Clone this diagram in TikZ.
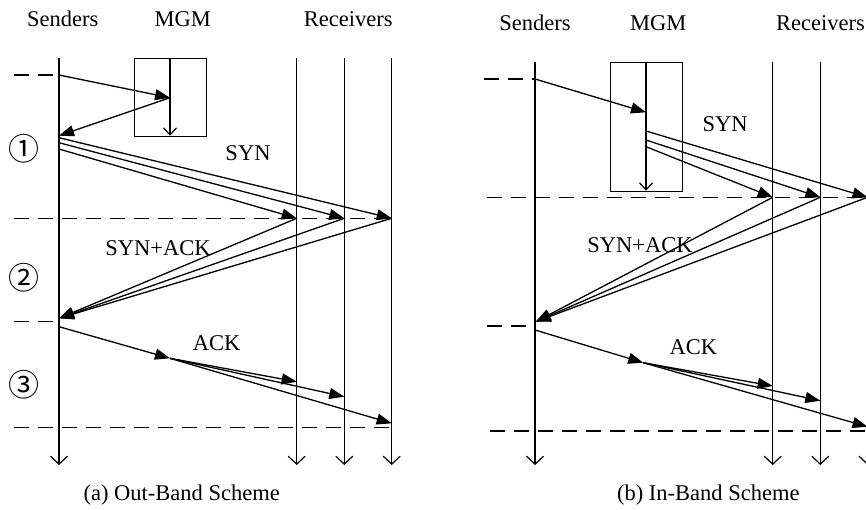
\documentclass[tikz,border=0pt]{standalone}
\usepackage{fontspec}
\setmainfont{Liberation Serif}
\newfontfamily\cjk{Noto Sans CJK SC}
\usetikzlibrary{arrows.meta}
\begin{document}
\begin{tikzpicture}[x=1pt,y=-1pt,
  every node/.style={inner sep=0pt,font=\fontsize{22.5}{26}\selectfont},
  circnum/.style={font=\fontsize{31}{34}\selectfont\cjk},
  lifeline/.style={line width=1.3pt,-{Straight Barb[length=8pt,width=17pt,line width=1.2pt]}},
  mgmline/.style={line width=1.3pt,-{Straight Barb[length=7pt,width=13pt,line width=1.2pt]}},
  msg/.style={line width=1.3pt,-{Triangle[length=15pt,width=11pt]}},
  sep/.style={line width=1.3pt,dash pattern=on 15pt off 9pt},
  box/.style={draw,line width=1.3pt}]
\useasboundingbox (0,0) rectangle (866,509);

%%%%%%%%%%%%%%%% (a) Out-Band
\node (senA) at (62.7,19.3) {Senders};
\node (mgmA) at (182.7,19.3) {MGM};
\node (recA) at (348.3,19.3) {Receivers};

\coordinate (sAt) at (59,58);   \coordinate (sAb) at (59,465);
\coordinate (rA1t) at (296.7,58); \coordinate (rA1b) at (296.7,465);
\coordinate (rA2t) at (344.3,58); \coordinate (rA2b) at (344.3,465);
\coordinate (rA3t) at (391.7,58); \coordinate (rA3b) at (391.7,465);
\draw[lifeline] (sAt) -- (sAb);
\draw[lifeline] (rA1t) -- (rA1b);
\draw[lifeline] (rA2t) -- (rA2b);
\draw[lifeline] (rA3t) -- (rA3b);

\node[box,minimum width=71.7pt,minimum height=77.7pt,anchor=north west] (boxA) at (134,58) {};
\coordinate (mAt) at (170,58); \coordinate (mAb) at (170,135.7);
\draw[mgmline] (mAt) -- (mAb);

% phase 1
\coordinate (dA1s) at (14,75); \coordinate (dA1e) at (59,75);
\draw[sep] (dA1s) -- (dA1e);
\coordinate (mAin) at (170,97.7);
\draw[msg] (dA1e) -- (mAin);
\coordinate (sAsyn) at (59,135.7);
\draw[msg] (mAin) -- (sAsyn);
\coordinate (sA1) at (59,137.7); \coordinate (sA2) at (59,142.7); \coordinate (sA3) at (59,149);
\coordinate (rA1s) at (296.7,218.3); \coordinate (rA2s) at (344.3,218.3); \coordinate (rA3s) at (391.7,218.3);
\draw[msg] (sA1) -- (rA3s);
\draw[msg] (sA2) -- (rA2s);
\draw[msg] (sA3) -- (rA1s);
\coordinate (dA2s) at (14,218.3);
\draw[sep] (dA2s) -- (rA3s);

% phase 2
\coordinate (sAack) at (59,318.3);
\draw[msg] (rA1s) -- (sAack);
\draw[msg] (rA2s) -- (sAack);
\draw[msg] (rA3s) -- (sAack);
\coordinate (dA3s) at (14,321.7); \coordinate (dA3e) at (59,321.7);
\draw[sep] (dA3s) -- (dA3e);

% phase 3
\coordinate (sAa) at (59,326.7); \coordinate (mAa) at (170,358.3);
\draw[msg] (sAa) -- (mAa);
\coordinate (rA1a) at (296.7,381.7); \coordinate (rA2a) at (344.3,396.7); \coordinate (rA3a) at (391.7,423.3);
\draw[msg] (mAa) -- (rA1a);
\draw[msg] (mAa) -- (rA2a);
\draw[msg] (mAa) -- (rA3a);
\coordinate (dA4s) at (14,427.7); \coordinate (dA4e) at (391.7,427.7);
\draw[sep] (dA4s) -- (dA4e);

\node (synA) at (248,152.7) {SYN};
\node (synackA) at (158,247.7) {SYN+ACK};
\node (ackA) at (216.7,343.3) {ACK};
\node[circnum] (c1) at (24,149) {①};
\node[circnum] (c2) at (24,278) {②};
\node[circnum] (c3) at (24,385) {③};
\node (capA) at (181.7,495) {(a) Out-Band Scheme};

%%%%%%%%%%%%%%%% (b) In-Band
\node (senB) at (535,23.3) {Senders};
\node (mgmB) at (658.3,23.3) {MGM};
\node[anchor=east] (recB) at (865,23.3) {Receivers};

\coordinate (sBt) at (535,61.7);   \coordinate (sBb) at (535,465);
\coordinate (rB1t) at (772.7,61.7); \coordinate (rB1b) at (772.7,465);
\coordinate (rB2t) at (820.3,61.7); \coordinate (rB2b) at (820.3,465);
\coordinate (rB3t) at (867.5,61.7); \coordinate (rB3b) at (867.5,465);
\draw[lifeline] (sBt) -- (sBb);
\draw[lifeline] (rB1t) -- (rB1b);
\draw[lifeline] (rB2t) -- (rB2b);
\draw[lifeline] (rB3t) -- (rB3b);

\node[box,minimum width=71.7pt,minimum height=129pt,anchor=north west] (boxB) at (610,61.7) {};
\coordinate (mBt) at (646,61.7); \coordinate (mBb) at (646,190.7);
\draw[mgmline] (mBt) -- (mBb);

\coordinate (dB1s) at (484,79); \coordinate (dB1e) at (535,79);
\draw[sep] (dB1s) -- (dB1e);
\coordinate (mBin) at (646,112.3);
\draw[msg] (dB1e) -- (mBin);
\coordinate (mB1) at (646,131); \coordinate (mB2) at (646,140); \coordinate (mB3) at (646,146.7);
\coordinate (rB1s) at (772.7,197.3); \coordinate (rB2s) at (820.3,197.3); \coordinate (rB3s) at (867.5,197.3);
\draw[msg] (mB1) -- (rB3s);
\draw[msg] (mB2) -- (rB2s);
\draw[msg] (mB3) -- (rB1s);
\coordinate (dB2s) at (486.7,197.3);
\draw[sep] (dB2s) -- (rB3s);

\coordinate (sBack) at (535.7,321.7);
\draw[msg] (rB1s) -- (sBack);
\draw[msg] (rB2s) -- (sBack);
\draw[msg] (rB3s) -- (sBack);
\coordinate (dB3s) at (486.7,326); \coordinate (dB3e) at (535,326);
\draw[sep] (dB3s) -- (dB3e);

\coordinate (sBa) at (535,330); \coordinate (mBa) at (643.3,362.7);
\draw[msg] (sBa) -- (mBa);
\coordinate (rB1a) at (772.7,386); \coordinate (rB2a) at (820.3,400.7); \coordinate (rB3a) at (867.5,426.7);
\draw[msg] (mBa) -- (rB1a);
\draw[msg] (mBa) -- (rB2a);
\draw[msg] (mBa) -- (rB3a);
\coordinate (dB4s) at (490,431); \coordinate (dB4e) at (867.5,431);
\draw[sep] (dB4s) -- (dB4e);

\node (synB) at (725,124) {SYN};
\node (synackB) at (640,245) {SYN+ACK};
\node (ackB) at (693.3,346.7) {ACK};
\node (capB) at (708.3,495) {(b) In-Band Scheme};
\end{tikzpicture}
\end{document}
